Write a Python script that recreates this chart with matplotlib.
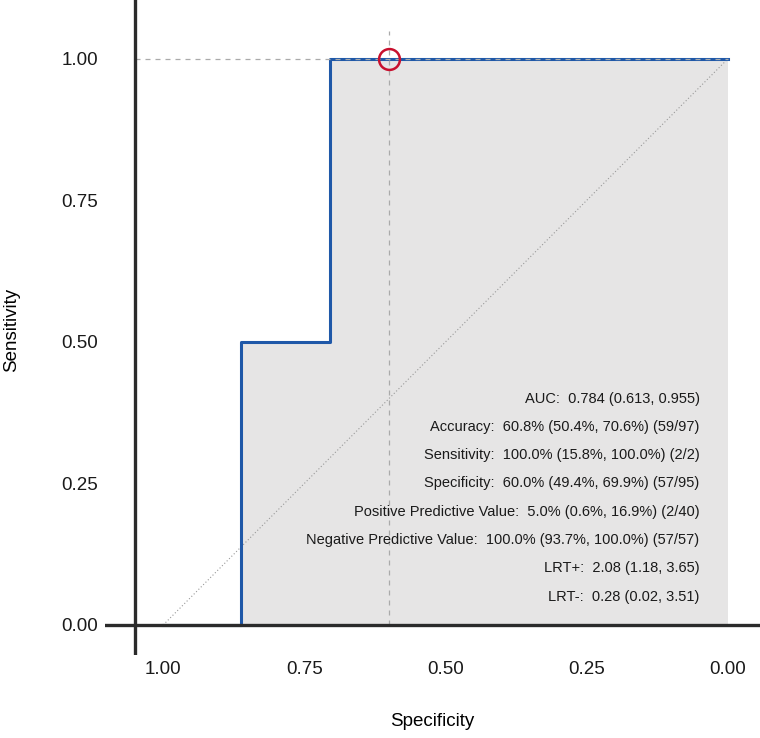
import matplotlib
matplotlib.use("Agg")
import matplotlib.pyplot as plt

plt.rcParams['font.family'] = ['Liberation Sans', 'DejaVu Sans']

# ROC curve (specificity, sensitivity)
roc_spec = [1.0, 0.863, 0.863, 0.705, 0.705, 0.0]
roc_sens = [0.0, 0.0, 0.5, 0.5, 1.0, 1.0]

# chosen cut-off
best_spec = 0.60
best_sens = 1.00

ticks = [1.00, 0.75, 0.50, 0.25, 0.00]
tick_labels = ['1.00', '0.75', '0.50', '0.25', '0.00']

stats = [
    'AUC:  0.784 (0.613, 0.955)',
    'Accuracy:  60.8% (50.4%, 70.6%) (59/97)',
    'Sensitivity:  100.0% (15.8%, 100.0%) (2/2)',
    'Specificity:  60.0% (49.4%, 69.9%) (57/95)',
    'Positive Predictive Value:  5.0% (0.6%, 16.9%) (2/40)',
    'Negative Predictive Value:  100.0% (93.7%, 100.0%) (57/57)',
    'LRT+:  2.08 (1.18, 3.65)',
    'LRT-:  0.28 (0.02, 3.51)',
]

fig = plt.figure(figsize=(7.6, 7.38), dpi=100)
ax = fig.add_axes([105 / 760, 83 / 738, 655 / 760, 655 / 738])

ax.fill_between(roc_spec, roc_sens, 0, color='#e6e5e5', lw=0, zorder=1)

# chance line
ax.plot([1, 0], [0, 1], color='#999999', lw=0.8, ls=(0, (1, 2)), zorder=2)

ax.plot(roc_spec, roc_sens, color='#1f58a8', lw=2.2, zorder=3)

# cut-off guides
ax.plot([1.05, 0], [best_sens, best_sens], color='#aaaaaa', lw=0.9, ls=(0, (4, 4)), zorder=4)
ax.plot([best_spec, best_spec], [0, 1.05], color='#aaaaaa', lw=0.9, ls=(0, (4, 4)), zorder=4)
ax.plot([best_spec], [best_sens], marker='o', ms=15, mfc='none', mec='#c8102e', mew=1.8, zorder=5)

# axis lines
ax.axvline(1.05, color='#2b2b2b', lw=2.4, zorder=6)
ax.axhline(0, color='#2b2b2b', lw=2.4, zorder=6)

for i, s in enumerate(stats):
    ax.text(0.05, 0.40 - 0.05 * i, s, ha='right', va='center', fontsize=10.5, color='#1a1a1a', zorder=7)

ax.set_xlim(1.103, -0.057)
ax.set_ylim(-0.053, 1.104)
ax.set_xticks(ticks)
ax.set_xticklabels(tick_labels)
ax.set_yticks(ticks)
ax.set_yticklabels(tick_labels)
ax.tick_params(axis='both', length=0, labelsize=13.5, colors='#1a1a1a')
ax.tick_params(axis='x', pad=4.5)
ax.tick_params(axis='y', pad=5)
for sp in ax.spines.values():
    sp.set_visible(False)

ax.set_xlabel('Specificity', fontsize=13.5)
ax.xaxis.label.set_va('center')
ax.xaxis.set_label_coords((432 - 105) / 655, (655 - 722) / 655)
ax.set_ylabel('Sensitivity', fontsize=13.5)
ax.yaxis.label.set_va('center')
ax.yaxis.set_label_coords((12 - 105) / 655, (655 - 330) / 655)

fig.savefig('out.png', dpi=100)
